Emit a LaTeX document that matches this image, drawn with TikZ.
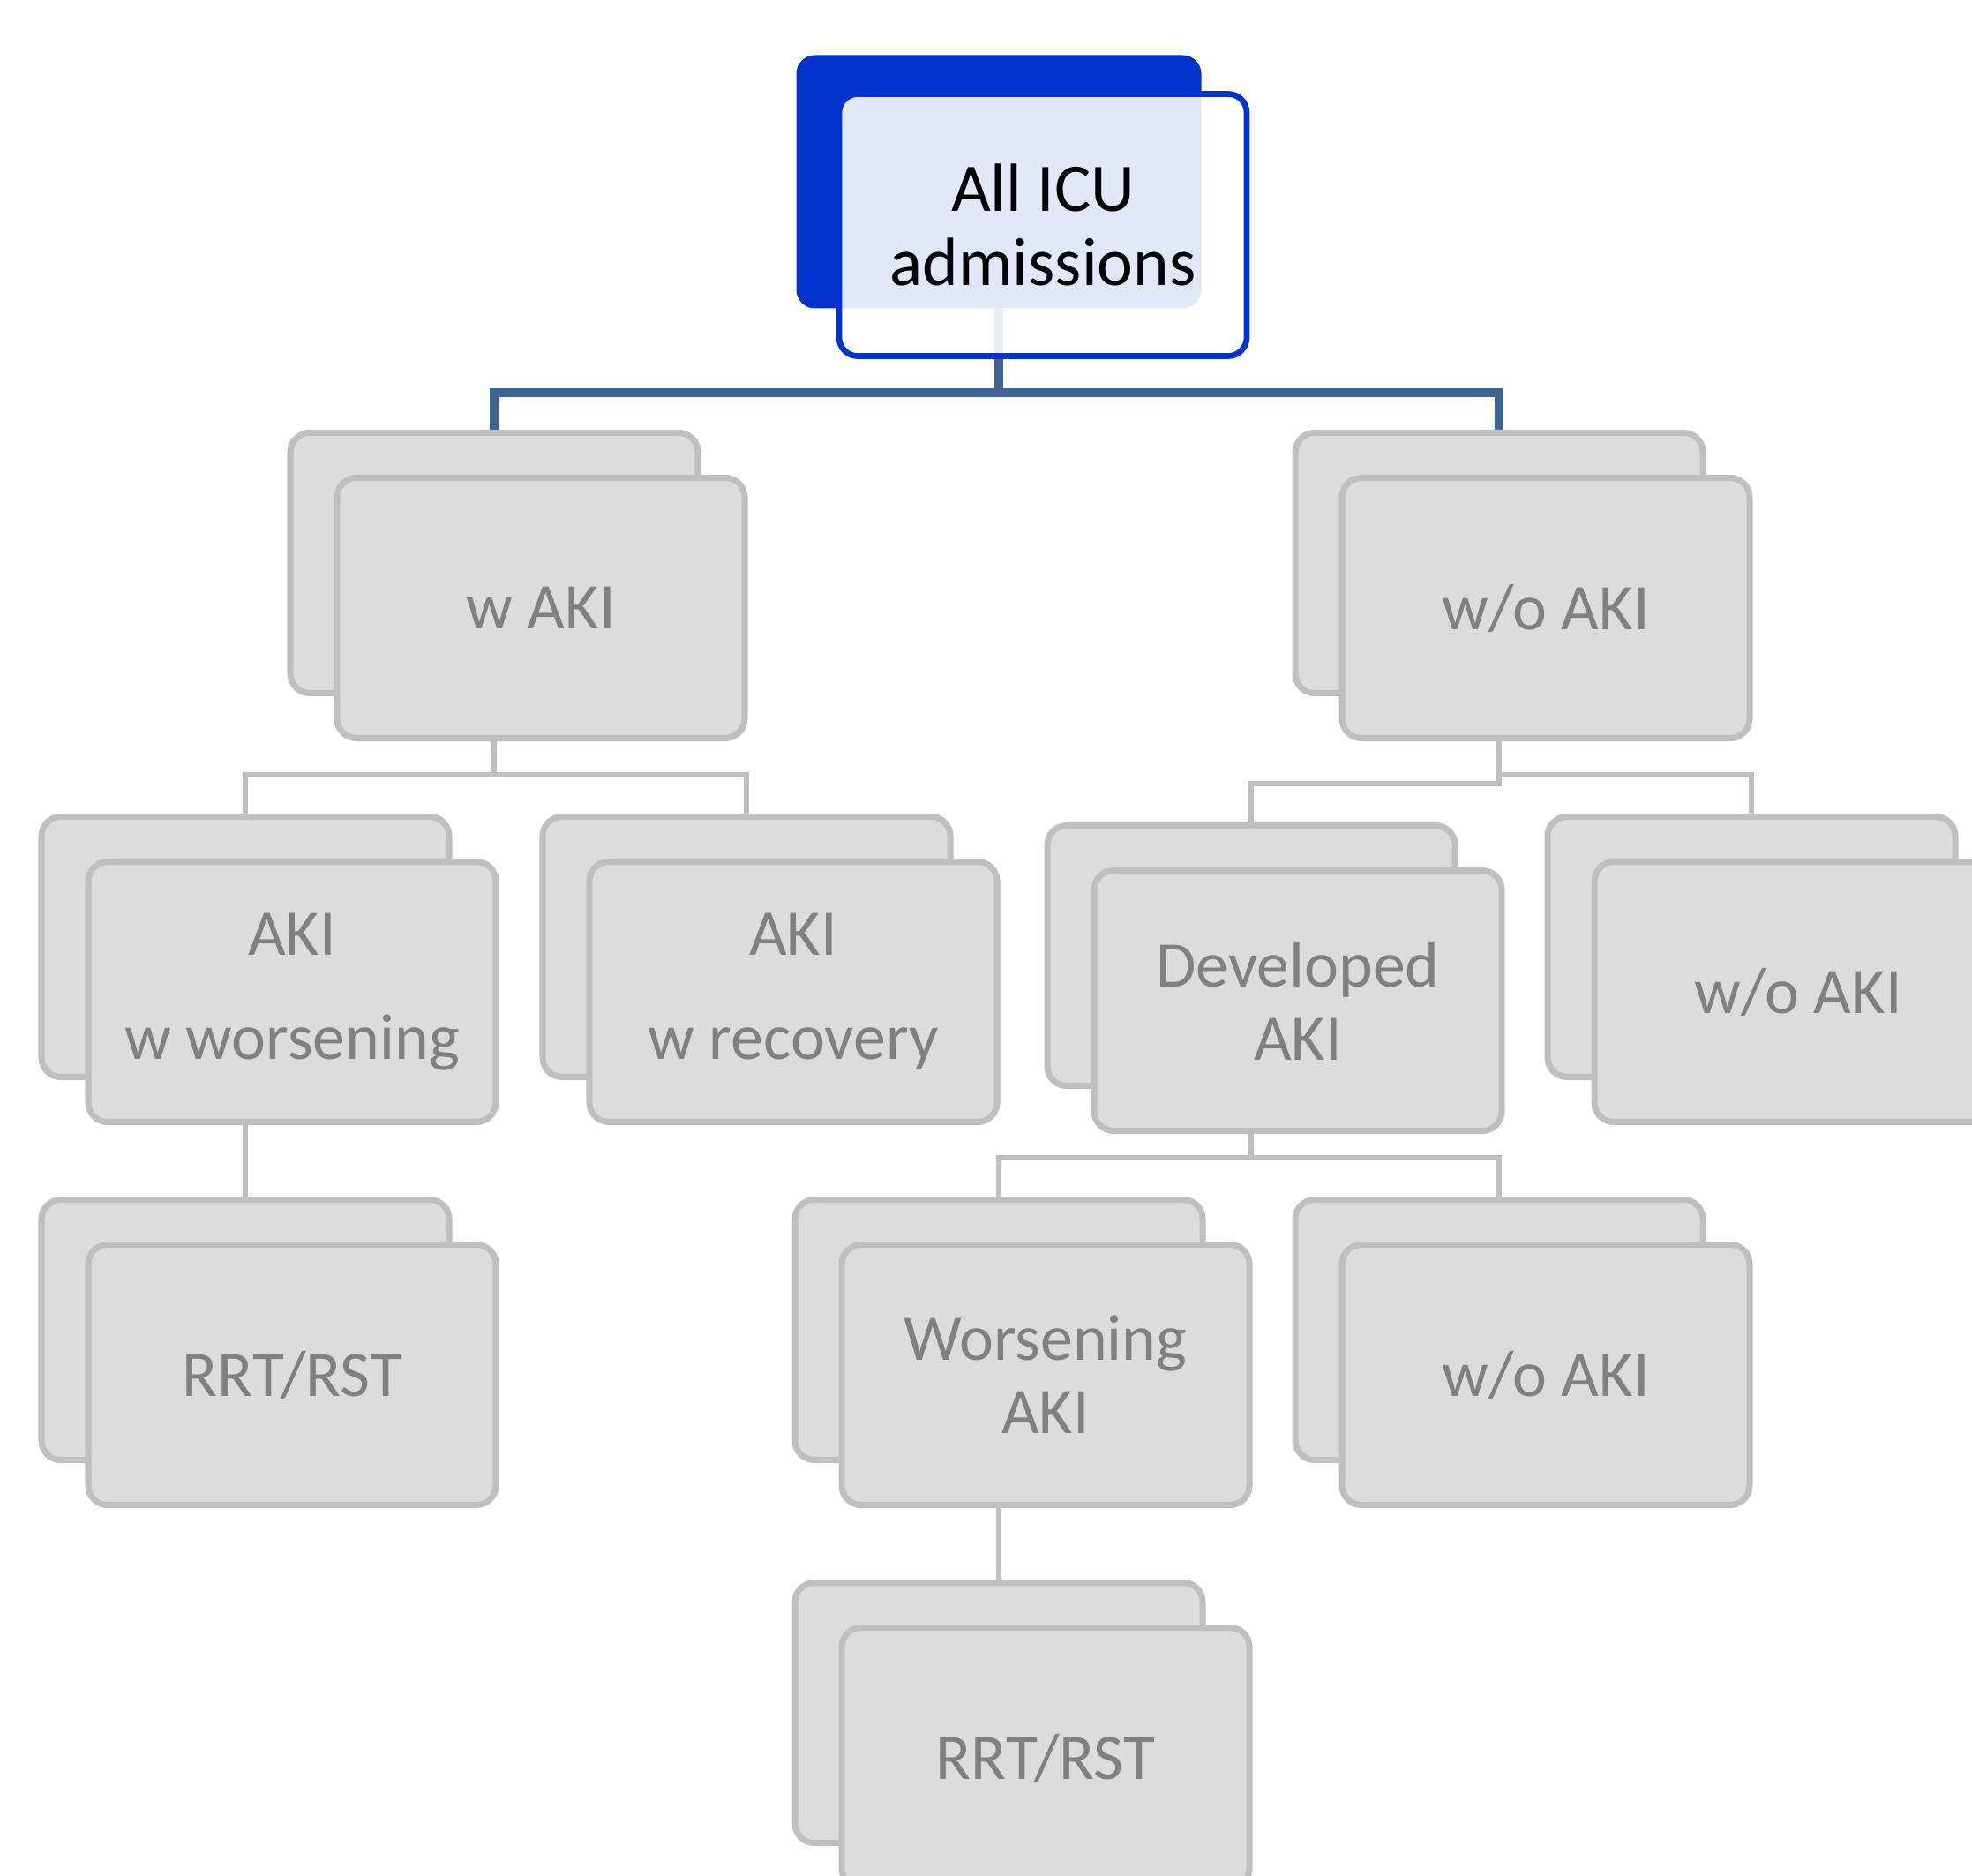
\documentclass[tikz,border=0pt]{standalone}
\usepackage{fontspec}
\setmainfont{Carlito}
\usetikzlibrary{backgrounds}
\definecolor{boxfill}{RGB}{220,220,220}
\definecolor{boxline}{RGB}{191,191,191}
\definecolor{boxtext}{RGB}{128,128,128}
\definecolor{topblue}{RGB}{0,51,204}
\definecolor{linkblue}{RGB}{62,100,150}
\tikzset{
  card/.style={draw=boxline, line width=2pt, fill=boxfill, rounded corners=0.22cm,
    minimum width=4.62cm, minimum height=2.95cm, inner sep=0pt},
  cardtext/.style={card, text=boxtext, align=center, font=\fontsize{21}{23.6}\selectfont},
  topcard/.style={fill=topblue, rounded corners=0.21cm, minimum width=4.59cm,
    minimum height=2.87cm, inner sep=0pt},
  toptext/.style={draw=topblue, line width=1.9pt, fill=white, fill opacity=0.89,
    text opacity=1, text=black, rounded corners=0.21cm, minimum width=4.62cm,
    minimum height=2.97cm, inner sep=0pt, align=center,
    font=\fontsize{22}{24}\selectfont},
  link/.style={draw=boxline, line width=1.7pt},
  toplink/.style={draw=linkblue, line width=2.6pt},
}
\begin{document}
\begin{tikzpicture}
  \def\dx{0.53}
  \def\dy{-0.51}
  \useasboundingbox (0,0) rectangle (22.35,-21.25);
  \clip (0,0) rectangle (22.35,-21.25);
  % top
  \node[topcard] (topB) at (11.32,-2.06) {};
  \node[toptext] (top) at ([shift={(0.50,-0.49)}]topB.center) {All ICU\\admissions};
  % first row
  \node[card] (wakiB) at (5.60,-6.38) {};
  \node[cardtext] (waki) at ([shift={(\dx,\dy)}]wakiB.center) {w AKI};
  \node[card] (woakiB) at (16.99,-6.38) {};
  \node[cardtext] (woaki) at ([shift={(\dx,\dy)}]woakiB.center) {w/o AKI};
  % second row
  \node[card] (worseB) at (2.78,-10.73) {};
  \node[cardtext] (worse) at ([shift={(\dx,\dy)}]worseB.center) {AKI\\[10pt]w worsening};
  \node[card] (recovB) at (8.46,-10.73) {};
  \node[cardtext] (recov) at ([shift={(\dx,\dy)}]recovB.center) {AKI\\[10pt]w recovery};
  \node[card] (devB) at (14.18,-10.83) {};
  \node[cardtext] (dev) at ([shift={(\dx,\dy)}]devB.center) {Developed\\AKI};
  \node[card] (nonewB) at (19.85,-10.73) {};
  \node[cardtext] (nonew) at ([shift={(\dx,\dy)}]nonewB.center) {w/o AKI};
  % third row
  \node[card] (rrtaB) at (2.78,-15.07) {};
  \node[cardtext] (rrta) at ([shift={(\dx,\dy)}]rrtaB.center) {RRT/RST};
  \node[card] (wsnB) at (11.32,-15.07) {};
  \node[cardtext] (wsn) at ([shift={(\dx,\dy)}]wsnB.center) {Worsening\\AKI};
  \node[card] (nowsnB) at (16.99,-15.07) {};
  \node[cardtext] (nowsn) at ([shift={(\dx,\dy)}]nowsnB.center) {w/o AKI};
  % last row
  \node[card] (rrtbB) at (11.32,-19.41) {};
  \node[cardtext] (rrtb) at ([shift={(\dx,\dy)}]rrtbB.center) {RRT/RST};
  \begin{scope}[on background layer]
    \draw[toplink] (topB.center) |- ([yshift=4.2mm]wakiB.north) -- (wakiB.north);
    \draw[toplink] (topB.center) |- ([yshift=4.2mm]woakiB.north) -- (woakiB.north);
    \draw[link] (wakiB.center) |- ([yshift=4.4mm]worseB.north) -- (worseB.north);
    \draw[link] (wakiB.center) |- ([yshift=4.4mm]recovB.north) -- (recovB.north);
    \draw[link] (woakiB.center) |- ([yshift=4.4mm]devB.north) -- (devB.north);
    \draw[link] (woakiB.center) |- ([yshift=4.4mm]nonewB.north) -- (nonewB.north);
    \draw[link] (worseB.center) -- (rrtaB.north);
    \draw[link] (devB.center) |- ([yshift=4.4mm]wsnB.north) -- (wsnB.north);
    \draw[link] (devB.center) |- ([yshift=4.4mm]nowsnB.north) -- (nowsnB.north);
    \draw[link] (wsnB.center) -- (rrtbB.north);
  \end{scope}
\end{tikzpicture}
\end{document}
